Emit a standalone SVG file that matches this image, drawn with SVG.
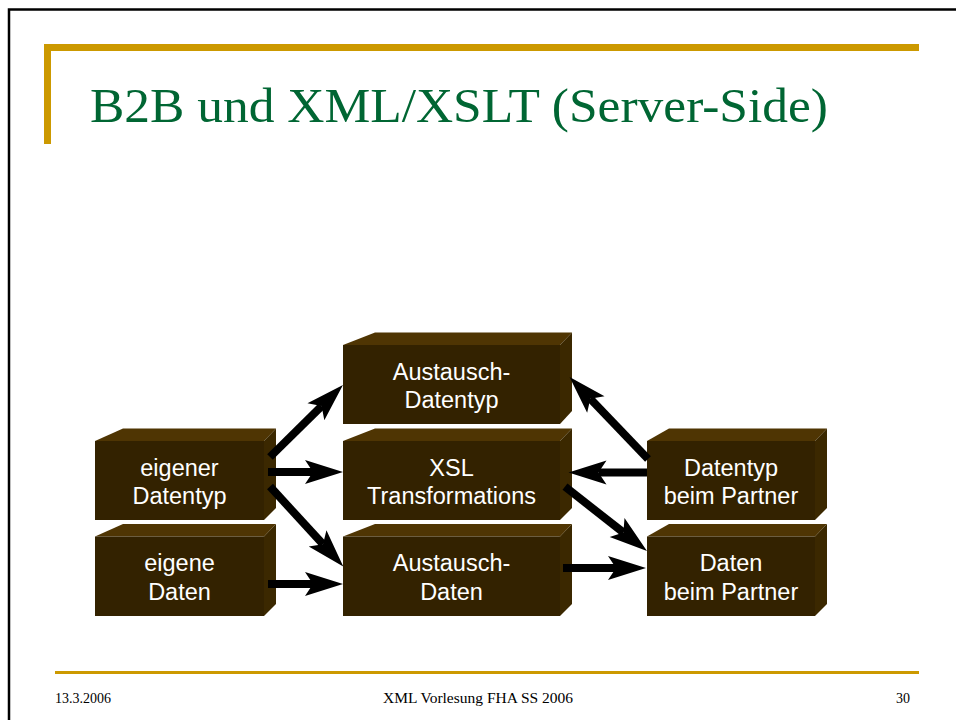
<svg xmlns="http://www.w3.org/2000/svg" width="956" height="720" viewBox="0 0 956 720">
<defs>
<style>
.front{fill:#332200}
.top{fill:#4F3503}
.side{fill:#3B2800}
.lbl{font-family:"Liberation Sans",Arial,sans-serif;font-size:23.5px;fill:#FFFFFF;text-anchor:middle}
.conn{stroke:#000000;stroke-width:8;fill:none;stroke-linecap:butt;marker-end:url(#head)}
.foot{font-family:"Liberation Serif","Times New Roman",serif;font-size:14px;fill:#000000}
</style>
<marker id="head" markerUnits="userSpaceOnUse" markerWidth="60" markerHeight="60" refX="0" refY="0" orient="auto" overflow="visible">
<path d="M30,0 L-8,-12 L0,0 L-8,12 Z" fill="#000000"/>
</marker>
</defs>
<rect x="0" y="0" width="956" height="720" fill="#FFFFFF"/>
<g id="frame">
<path d="M9,720 L9,9.5 L956,9.5" fill="none" stroke="#000000" stroke-width="2.5"/>
<rect x="44" y="44" width="875" height="7" fill="#CC9900"/>
<rect x="44" y="44" width="7" height="100" fill="#CC9900"/>
<rect x="55" y="671" width="864" height="3" fill="#CC9900"/>
</g>
<text id="title" x="90" y="122" font-family="Liberation Serif,'Times New Roman',serif" font-size="48" fill="#006633" textLength="738" lengthAdjust="spacingAndGlyphs">B2B und XML/XSLT (Server-Side)</text>
<g id="footer">
<text class="foot" x="55" y="703">13.3.2006</text>
<text class="foot" x="478" y="703" text-anchor="middle" textLength="190" lengthAdjust="spacingAndGlyphs">XML Vorlesung FHA SS 2006</text>
<text class="foot" x="910" y="703" text-anchor="end">30</text>
</g>
<g id="node-eigener-datentyp">
<polygon class="top" points="95,441 123,428.5 276,428.5 264,441"/>
<polygon class="side" points="264,441 276,428.5 276,508 264,520"/>
<rect class="front" x="95" y="441" width="169" height="79"/>
<text class="lbl" x="179.5" y="475.5">eigener</text>
<text class="lbl" x="179.5" y="504">Datentyp</text>
</g>
<g id="node-eigene-daten">
<polygon class="top" points="95,536.5 123,524 276,524 264,536.5"/>
<polygon class="side" points="264,536.5 276,524 276,604 264,616"/>
<rect class="front" x="95" y="536.5" width="169" height="79.5"/>
<text class="lbl" x="179.5" y="571">eigene</text>
<text class="lbl" x="179.5" y="599.5">Daten</text>
</g>
<g id="node-austausch-datentyp">
<polygon class="top" points="343,345 375,332.5 572,332.5 560,345"/>
<polygon class="side" points="560,345 572,332.5 572,411 560,424"/>
<rect class="front" x="343" y="345" width="217" height="79"/>
<text class="lbl" x="451.5" y="379.5">Austausch-</text>
<text class="lbl" x="451.5" y="408">Datentyp</text>
</g>
<g id="node-xsl">
<polygon class="top" points="343,441 375,428.5 572,428.5 560,441"/>
<polygon class="side" points="560,441 572,428.5 572,508 560,520"/>
<rect class="front" x="343" y="441" width="217" height="79"/>
<text class="lbl" x="451.5" y="475.5">XSL</text>
<text class="lbl" x="451.5" y="504">Transformations</text>
</g>
<g id="node-austausch-daten">
<polygon class="top" points="343,536.5 375,524 572,524 560,536.5"/>
<polygon class="side" points="560,536.5 572,524 572,604 560,616"/>
<rect class="front" x="343" y="536.5" width="217" height="79.5"/>
<text class="lbl" x="451.5" y="571">Austausch-</text>
<text class="lbl" x="451.5" y="599.5">Daten</text>
</g>
<g id="node-datentyp-partner">
<polygon class="top" points="647,441 669,428.5 827,428.5 815,441"/>
<polygon class="side" points="815,441 827,428.5 827,508 815,520"/>
<rect class="front" x="647" y="441" width="168" height="79"/>
<text class="lbl" x="731" y="475.5">Datentyp</text>
<text class="lbl" x="731" y="504">beim Partner</text>
</g>
<g id="node-daten-partner">
<polygon class="top" points="647,536.5 669,524 827,524 815,536.5"/>
<polygon class="side" points="815,536.5 827,524 827,604 815,616"/>
<rect class="front" x="647" y="536.5" width="168" height="79.5"/>
<text class="lbl" x="731" y="571">Daten</text>
<text class="lbl" x="731" y="599.5">beim Partner</text>
</g>
<g id="connectors">
<line class="conn" x1="270" y1="457" x2="321.6" y2="406.1"/>
<line class="conn" x1="268" y1="472" x2="313" y2="472"/>
<line class="conn" x1="270" y1="486.5" x2="323" y2="544.3"/>
<line class="conn" x1="268" y1="584" x2="313" y2="584"/>
<line class="conn" x1="648" y1="459" x2="590.3" y2="398.7"/>
<line class="conn" x1="647" y1="472.5" x2="598.5" y2="472.5"/>
<line class="conn" x1="565" y1="486.7" x2="623.4" y2="532.5"/>
<line class="conn" x1="563" y1="568" x2="616" y2="568"/>
</g>
</svg>
